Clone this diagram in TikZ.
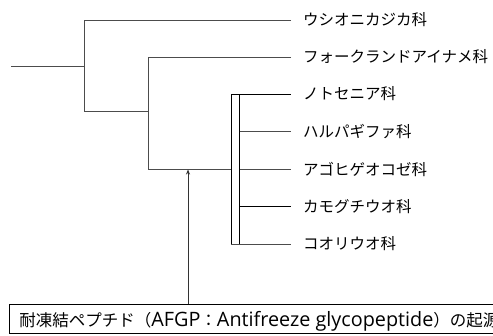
\documentclass[tikz,border=0pt]{standalone}
\usepackage{fontspec}
\setmainfont{Noto Sans CJK JP}
\newfontfamily\latfont[Scale=1.2]{Open Sans}
\usetikzlibrary{arrows.meta}
\tikzset{
  x=1pt, y=-1pt,
  branch/.style={draw=black!70, line width=0.9pt},
  boxline/.style={draw=black, line width=0.8pt},
  leaflabel/.style={anchor=west, inner sep=0pt, font=\fontsize{15.5}{19}\selectfont},
  notebox/.style={draw=black, line width=0.8pt, anchor=north west, inner sep=0pt,
    minimum height=29pt, text depth=0pt, align=left, font=\fontsize{16.5}{19}\selectfont},
  pointer/.style={draw=black!80, line width=0.9pt, -{Stealth[length=5pt,width=4pt]}}
}
\begin{document}
\begin{tikzpicture}
\useasboundingbox (0,0) rectangle (493,335);
\clip (0,0) rectangle (493,335);
% leaf labels
\node[leaflabel] (l1) at (303,20) {ウシオニカジカ科};
\node[leaflabel] (l2) at (303,57) {フォークランドアイナメ科};
\node[leaflabel] (l3) at (303,94) {ノトセニア科};
\node[leaflabel] (l4) at (303,131.5) {ハルパギファ科};
\node[leaflabel] (l5) at (303,169) {アゴヒゲオコゼ科};
\node[leaflabel] (l6) at (303,206.5) {カモグチウオ科};
\node[leaflabel] (l7) at (303,244) {コオリウオ科};
% tree joints
\coordinate (r0) at (11,66);
\coordinate (a) at (84,66);
\coordinate (a1) at (84,20);
\coordinate (a2) at (84,111);
\coordinate (b2) at (148,111);
\coordinate (b1) at (148,57);
\coordinate (b3) at (148,169);
\coordinate (bx) at (231,169);
\coordinate (e1) at (291,20);
\coordinate (e2) at (291,57);
\coordinate (c1) at (231,94);
\coordinate (c2) at (239.5,244);
\coordinate (e3) at (291,94);
\coordinate (e4) at (291,131.5);
\coordinate (e5) at (291,169);
\coordinate (e6) at (291,206.5);
\coordinate (e7) at (291,244);
\coordinate (m) at (188,169.5);
% branches
\draw[branch] (r0) -- (a);
\draw[branch] (e1) -- (a1) -- (a2) -- (b2);
\draw[branch] (e2) -- (b1) -- (b3) -- (bx);
\draw[boxline] (c1) rectangle (c2);
\draw[boxline] (c1) -- (e3);
\draw[branch] (239.5,131.5) -- (e4);
\draw[branch] (239.5,169) -- (e5);
\draw[boxline] (239.5,206.5) -- (e6);
\draw[branch] (231,244) -- (e7);
% bottom note
\node[notebox] (note) at (9,304) {\hspace{10pt}耐凍結ペプチド（{\latfont AFGP}：{\latfont Antifreeze glycopeptide}）の起源\hspace{10pt}};
\draw[pointer] (note.north west -| m) -- (m);
\end{tikzpicture}
\end{document}
